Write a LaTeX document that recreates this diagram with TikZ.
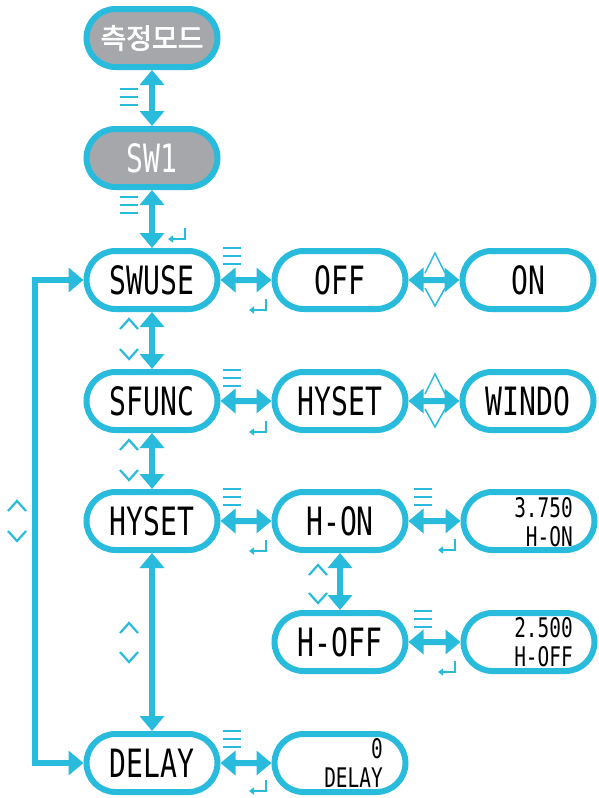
\documentclass[tikz,border=0pt]{standalone}
\usepackage{fontspec}
\usetikzlibrary{shapes.misc,arrows.meta}
\newfontfamily\lcd[FakeStretch=0.72]{DejaVu Sans Mono}
\newfontfamily\kr[FakeBold=2.5]{Noto Sans CJK KR}
\definecolor{cy}{RGB}{40,187,219}
\definecolor{gr}{RGB}{166,167,170}
\tikzset{
  mymenu/.pic={\foreach \yy in {-8,0,8} \draw[cy, line width=2.8pt] (-9,\yy) -- (9,\yy);},
  myenter/.pic={\draw[cy,line width=2pt,-{Triangle[length=5pt,width=7pt]}] (8,-6) -- (8,5) -- (-9,5);},
  myup/.pic={\draw[cy,line width=2.2pt] (-9,5) -- (0,-5) -- (9,5);},
  mydown/.pic={\draw[cy,line width=2.2pt] (-9,-5) -- (0,5) -- (9,-5);},
}
\begin{document}
\begin{tikzpicture}[x=1pt,y=-1pt,
  box/.style={rounded rectangle, draw=cy, line width=6pt, minimum width=131pt, minimum height=58pt, fill=white, inner sep=0pt, font=\lcd\fontsize{39}{39}\selectfont},
  gbox/.style={box, fill=gr, text=white},
  small/.style={inner sep=0pt, font=\lcd\fontsize{27}{27}\selectfont, anchor=east},
  dar/.style={draw=cy, line width=6pt, {Triangle[length=15pt,width=24pt]}-{Triangle[length=15pt,width=24pt]}},
  chev/.style={draw=cy, line width=1.5pt},
]
\useasboundingbox (0,0) rectangle (599,798);

\node[gbox, font=\kr\fontsize{28}{28}\selectfont] (mode) at (152,38) {측정모드};
\node[gbox] (sw1) at (152,158) {SW1};
\node[box] (swuse) at (152,280) {SWUSE};
\node[box] (off) at (340,280) {OFF};
\node[box] (on) at (528,280) {ON};
\node[box] (sfunc) at (152,401) {SFUNC};
\node[box] (hyset1) at (340,401) {HYSET};
\node[box] (windo) at (528,401) {WINDO};
\node[box] (hyset) at (152,521) {HYSET};
\node[box] (hon) at (340,521) {H-ON};
\node[box] (honv) at (529,521) {};
\node[small] (honv1) at (573,508) {3.750};
\node[small] (honv2) at (573,537) {H-ON};
\node[box] (hoff) at (340,642) {H-OFF};
\node[box] (hoffv) at (529,642) {};
\node[small] (hoffv1) at (573,628) {2.500};
\node[small] (hoffv2) at (573,657) {H-OFF};
\node[box] (delay) at (152,763) {DELAY};
\node[box] (delayv) at (340,763) {};
\node[small] (delayv1) at (383,749) {0};
\node[small] (delayv2) at (383,778) {DELAY};

% chevrons between value boxes
\draw[chev] (425,273) -- (435,253) -- (445,273);
\draw[chev] (425,288) -- (435,306) -- (445,288);
\draw[chev] (425,394) -- (435,374) -- (445,394);
\draw[chev] (425,409) -- (435,427) -- (445,409);

% arrows
\draw[dar] (mode) -- (sw1);
\draw[dar] (sw1) -- (swuse);
\draw[dar] (swuse) -- (off);
\draw[dar] (off) -- (on);
\draw[dar] (swuse) -- (sfunc);
\draw[dar] (sfunc) -- (hyset1);
\draw[dar] (hyset1) -- (windo);
\draw[dar] (sfunc) -- (hyset);
\draw[dar] (hyset) -- (hon);
\draw[dar] (hon) -- (honv);
\draw[dar] (hon) -- (hoff);
\draw[dar] (hoff) -- (hoffv);
\draw[dar] (hyset) -- (delay);
\draw[dar] (delay) -- (delayv);
\coordinate (lt) at (35,280);
\coordinate (lb) at (35,763);
\draw[dar, line join=miter] (swuse.west) -- (lt) -- (lb) -- (delay.west);

% menu icons
\pic at (129,97) {mymenu};
\pic at (129,205) {mymenu};
\pic at (232,256) {mymenu};
\pic at (232,378) {mymenu};
\pic at (232,497) {mymenu};
\pic at (423,497) {mymenu};
\pic at (423,619) {mymenu};
\pic at (232,739) {mymenu};

% enter icons
\pic at (177,234) {myenter};
\pic at (258,305) {myenter};
\pic at (258,427) {myenter};
\pic at (258,546) {myenter};
\pic at (447,545) {myenter};
\pic at (447,667) {myenter};
\pic at (258,786) {myenter};

% up/down icons
\pic at (129,324) {myup};
\pic at (129,354) {mydown};
\pic at (129,445) {myup};
\pic at (129,475) {mydown};
\pic at (129,628) {myup};
\pic at (129,657) {mydown};
\pic at (318,570) {myup};
\pic at (318,598) {mydown};
\pic at (17,506) {myup};
\pic at (17,536) {mydown};
\end{tikzpicture}
\end{document}
